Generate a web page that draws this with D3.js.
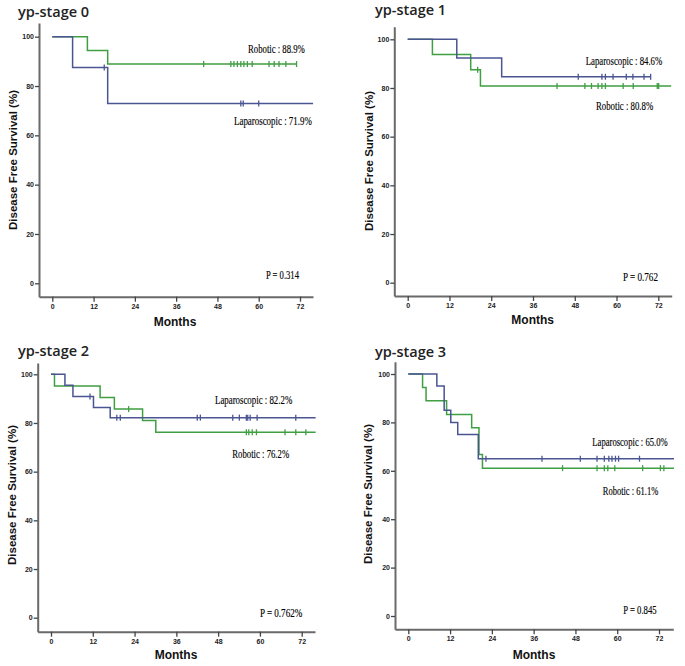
<!DOCTYPE html>
<html><head><meta charset="utf-8">
<script src="https://cdn.jsdelivr.net/npm/d3@7"></script>
<style>body{margin:0;background:#fff} svg{display:block}</style>
</head><body>
<svg id="c" width="685" height="666"></svg>
<script>
// ---------- data ----------
const panelTitles = ["yp-stage 0", "yp-stage 1", "yp-stage 2", "yp-stage 3"];
const xTickValues = [0, 12, 24, 36, 48, 60, 72];
const yTickValues = [0, 20, 40, 60, 80, 100];
const xAxisTitle = "Months";
const yAxisTitle = "Disease Free Survival (%)";
const pLabels = ["P = 0.314", "P = 0.762", "P = 0.762%", "P = 0.845"];
const lapLabels = ["Laparoscopic : 71.9%", "Laparoscopic : 84.6%", "Laparoscopic : 82.2%", "Laparoscopic : 65.0%"];
const robLabels = ["Robotic : 88.9%", "Robotic : 80.8%", "Robotic : 76.2%", "Robotic : 61.1%"];

// step curves: [month, survival %], censor months, end of follow-up
const lapSteps0 = [[0,100],[5.9,87.5],[16.1,72.9]];
const lapCensor0 = [15.1,54.8,55.5,60.0];
const lapEnd0 = 75.8;
const robSteps0 = [[0,100],[10.2,94.4],[16.1,88.9]];
const robCensor0 = [44.0,51.9,52.8,53.8,54.8,55.7,56.7,58.1,63.0,64.5,65.9,67.9,71.0];
const robEnd0 = 71.0;

const lapSteps1 = [[0,100],[14.1,92.3],[27.0,84.6]];
const lapCensor1 = [49.0,55.8,56.8,59.0,62.8,64.7,67.9,69.8];
const lapEnd1 = 69.8;
const robSteps1 = [[0,100],[7.1,93.8],[18.1,87.5],[20.9,80.8]];
const robCensor1 = [20.1,42.9,50.9,52.8,54.7,55.8,56.8,61.9,64.8,71.7,72.1];
const robEnd1 = 75.7;

const lapSteps2 = [[0,100],[4.0,95.5],[6.3,90.9],[12.2,86.4],[17.0,82.2]];
const lapCensor2 = [11.2,18.9,19.9,42.0,42.9,52.2,54.1,56.1,56.5,57.2,59.2,70.3];
const lapEnd2 = 76.0;
const robSteps2 = [[0,100],[1.0,95.2],[14.1,90.5],[18.2,85.7],[26.3,81.0],[30.1,76.2]];
const robCensor2 = [22.3,56.1,56.8,57.8,59.0,67.2,70.3,73.2];
const robEnd2 = 76.0;

const lapSteps3 = [[0,100],[8.2,95.0],[10.3,85.0],[12.2,80.0],[14.2,75.0],[20.1,65.0]];
const lapCensor3 = [22.3,38.4,49.4,54.2,56.3,57.6,58.5,59.5,60.4,66.4];
const lapEnd3 = 76.3;
const robSteps3 = [[0,100],[4.1,94.4],[5.1,88.9],[11.0,83.3],[18.2,77.8],[20.3,66.7],[21.3,61.1]];
const robCensor3 = [44.3,54.2,56.3,57.3,59.3,67.3,72.4,73.4];
const robEnd3 = 76.3;

const lapSeries = [
  {steps: lapSteps0, censor: lapCensor0, end: lapEnd0},
  {steps: lapSteps1, censor: lapCensor1, end: lapEnd1},
  {steps: lapSteps2, censor: lapCensor2, end: lapEnd2},
  {steps: lapSteps3, censor: lapCensor3, end: lapEnd3}
];
const robSeries = [
  {steps: robSteps0, censor: robCensor0, end: robEnd0},
  {steps: robSteps1, censor: robCensor1, end: robEnd1},
  {steps: robSteps2, censor: robCensor2, end: robEnd2},
  {steps: robSteps3, censor: robCensor3, end: robEnd3}
];

// ---------- layout ----------
const LAP_COLOR = "#4a5592";
const ROB_COLOR = "#3f9f42";
const layouts = [
  {x0:52.3, x72:300,   left:39,    right:313,   y0:283.3, y100:36.7, top:23,    bottom:296.7,
   title:[18,17], ylab:[12.5,160], xlab:[175,326], lap:[234,121,78], rob:[248,49,57], p:[266,275,33]},
  {x0:407.7, x72:658.3, left:394.3, right:671.7, y0:282.7, y100:39.3, top:26.7, bottom:296,
   title:[375,15], ylab:[369,161], xlab:[532.7,324], lap:[585.7,61,76.6], rob:[596,106,57.3], p:[623,277,35]},
  {x0:51,   x72:301.7, left:37.7,  right:315,   y0:617.7, y100:374.3, top:363,  bottom:631.7,
   title:[18,356], ylab:[11.7,495], xlab:[176,659], lap:[215,400,77.3], rob:[232.3,454,57], p:[260,612.7,42.3]},
  {x0:408.3, x72:659,  left:395,   right:673.3, y0:616,   y100:374,  top:361.7, bottom:629.3,
   title:[375,356.7], ylab:[368.3,494], xlab:[534,659], lap:[592.3,441.7,75.4], rob:[602.7,491,55.6], p:[623.3,610,33.4]}
];

const svg = d3.select("#c");

function survAt(steps, t) {
  let s = steps[0][1];
  for (const st of steps) if (st[0] <= t) s = st[1];
  return s;
}

layouts.forEach((L, i) => {
  const pxM = (L.x72 - L.x0) / 72;
  const pxS = (L.y0 - L.y100) / 100;
  const x = d3.scaleLinear()
    .domain([(L.left - L.x0) / pxM, 72 + (L.right - L.x72) / pxM])
    .range([L.left, L.right]);
  const y = d3.scaleLinear()
    .domain([-(L.bottom - L.y0) / pxS, 100 + (L.y100 - L.top) / pxS])
    .range([L.bottom, L.top]);

  const g = svg.append("g");

  // axes
  const xAxis = g.append("g").attr("transform", `translate(0,${L.bottom})`)
    .call(d3.axisBottom(x).tickValues(xTickValues).tickSizeInner(5).tickSizeOuter(0).tickPadding(2));
  const yAxis = g.append("g").attr("transform", `translate(${L.left},0)`)
    .call(d3.axisLeft(y).tickValues(yTickValues).tickSizeInner(4).tickSizeOuter(0).tickPadding(1));
  [xAxis, yAxis].forEach(a => {
    a.select(".domain").attr("stroke", "#6a6a6a").attr("stroke-width", 2);
    a.selectAll(".tick line").attr("stroke", "#444").attr("stroke-width", 1.3);
    a.selectAll(".tick text")
      .attr("fill", "#222")
      .style("font-family", "'Liberation Sans Narrow','Arial Narrow','Liberation Sans',sans-serif")
      .style("font-weight", "bold")
      .style("font-size", "7px");
  });

  // curves
  const line = d3.line().x(d => x(d[0])).y(d => y(d[1])).curve(d3.curveStepAfter);
  const drawSeries = (ser, color) => {
    const pts = ser.steps.concat([[ser.end, ser.steps[ser.steps.length - 1][1]]]);
    g.append("path").attr("d", line(pts))
      .attr("fill", "none").attr("stroke", color).attr("stroke-width", 1.5);
    g.selectAll(null).data(ser.censor).enter().append("line")
      .attr("x1", d => x(d)).attr("x2", d => x(d))
      .attr("y1", d => y(survAt(ser.steps, d)) - 3)
      .attr("y2", d => y(survAt(ser.steps, d)) + 3)
      .attr("stroke", color).attr("stroke-width", 1.3);
  };
  drawSeries(robSeries[i], ROB_COLOR);
  drawSeries(lapSeries[i], LAP_COLOR);

  // title
  g.append("text").attr("x", L.title[0]).attr("y", L.title[1])
    .text(panelTitles[i])
    .style("font-family", "'Open Sans','Noto Sans',sans-serif")
    .style("font-weight", 600).style("font-size", "14.5px").attr("fill", "#222");

  // axis titles
  g.append("text").attr("transform", `translate(${L.ylab[0]},${L.ylab[1]}) rotate(-90)`)
    .attr("text-anchor", "middle").attr("dominant-baseline", "central")
    .text(yAxisTitle)
    .style("font-family", "'Liberation Sans',Arial,sans-serif")
    .style("font-weight", "bold").style("font-size", "11.5px").attr("fill", "#111");
  g.append("text").attr("x", L.xlab[0]).attr("y", L.xlab[1])
    .attr("text-anchor", "middle")
    .text(xAxisTitle)
    .style("font-family", "'Liberation Sans Narrow','Arial Narrow','Liberation Sans',sans-serif")
    .style("font-weight", "bold").style("font-size", "12px").attr("fill", "#111");

  // annotations (serif, horizontally compressed to the reference widths)
  const ann = (pos, txt) => {
    const wrap = g.append("g");
    const t = wrap.append("text").attr("x", 0).attr("y", 0)
      .attr("dominant-baseline", "central")
      .text(txt)
      .style("font-family", "'Liberation Serif','Times New Roman',serif")
      .style("font-size", "11.5px").attr("fill", "#000")
      .attr("stroke", "#000").attr("stroke-width", 0.15);
    const w = t.node().getComputedTextLength();
    wrap.attr("transform", `translate(${pos[0]},${pos[1]}) scale(${pos[2] / w},1)`);
  };
  ann(L.lap, lapLabels[i]);
  ann(L.rob, robLabels[i]);
  ann(L.p, pLabels[i]);
});
</script>
</body></html>
